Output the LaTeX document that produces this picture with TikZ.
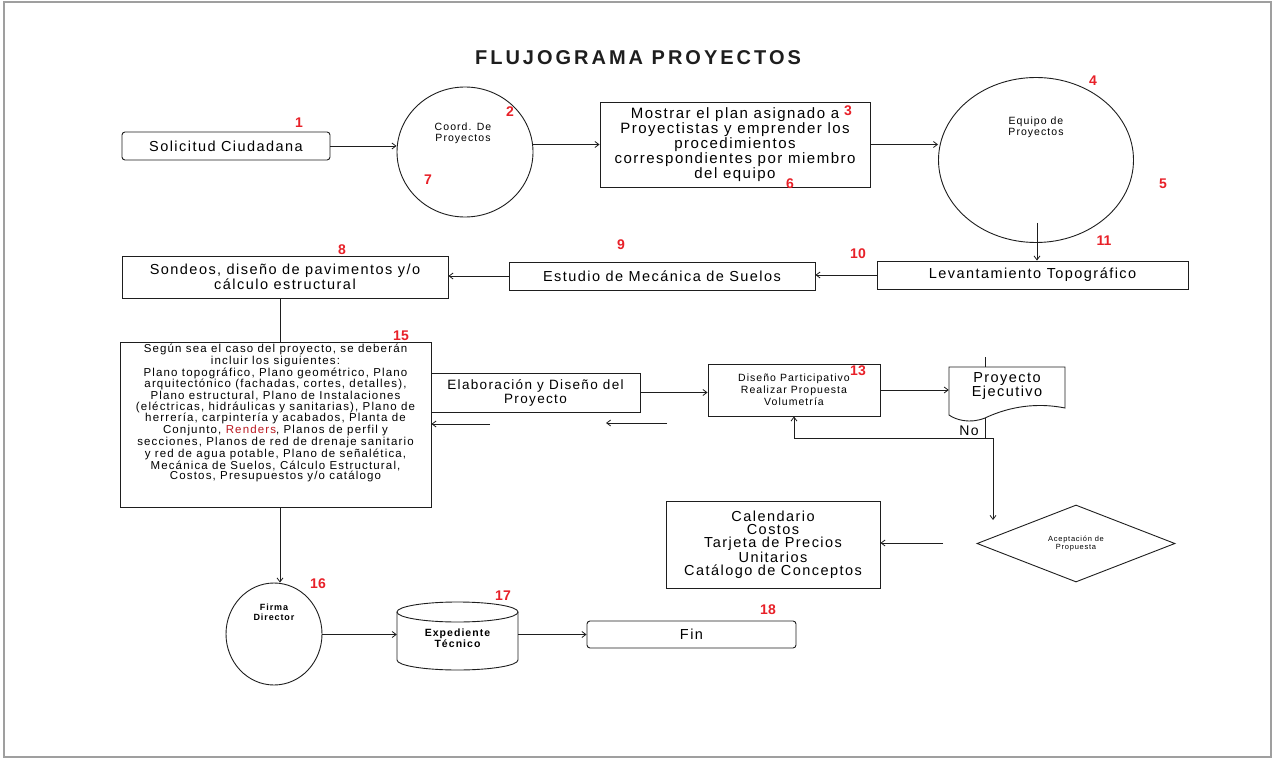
\documentclass[tikz,border=0pt]{standalone}
\usepackage{fontspec}
\setmainfont{Liberation Sans}[LetterSpace=10]
\newfontfamily\plainsans{Liberation Sans}
\newfontfamily\titlefont{Liberation Sans}[LetterSpace=15]
\usetikzlibrary{arrows.meta,shapes.geometric,calc}
\definecolor{numred}{RGB}{232,32,40}
\definecolor{ink}{RGB}{30,30,30}
\tikzset{
  base/.style={draw=ink, line width=0.9pt, fill=white, inner sep=2pt, align=center,
    font=\fontsize{14.5}{14.5}\selectfont},
  boxn/.style={base, rectangle},
  rbox/.style={base, rectangle, rounded corners=3pt},
  ell/.style={draw=ink, line width=0.9pt, ellipse, inner sep=0pt},
  small/.style={align=center, inner sep=0pt, font=\fontsize{10.5}{11}\selectfont},
  num/.style={text=numred, inner sep=0pt, font=\plainsans\bfseries\fontsize{14}{14}\selectfont},
  arr/.style={draw=ink, line width=0.8pt, -{Straight Barb[length=4pt,width=6pt]}},
  ln/.style={draw=ink, line width=0.8pt},
}
\begin{document}
\begin{tikzpicture}[x=1pt,y=-1pt]
\useasboundingbox (0,0) rectangle (1274,759);
\fill[white] (0,0) rectangle (1274,759);
\draw[gray!75, line width=1.2pt] (4,2) rectangle (1271,757);

\node[font=\titlefont\bfseries\fontsize{20}{20}\selectfont, text=ink] (title) at (638,58) {FLUJOGRAMA PROYECTOS};

% row 1
\node[rbox, minimum width=208, minimum height=28] (n1) at (226,146) {Solicitud Ciudadana};
\node[ell, minimum width=136, minimum height=130] (n2) at (465,152) {};
\node[small] (n2t) at (463,133) {Coord. De\\Proyectos};
\node[boxn, minimum width=270, minimum height=85, font=\fontsize{15}{13.4}\selectfont] (n3) at (735,144.5)
  {Mostrar el plan asignado a\\Proyectistas y emprender los\\procedimientos\\correspondientes por miembro\\del equipo};
\node[ell, minimum width=195, minimum height=165] (n4) at (1036,160) {};
\node[small] (n4t) at (1036,127) {Equipo de\\Proyectos};

% row 2
\node[boxn, minimum width=311, minimum height=28] (n11) at (1032.5,275) {Levantamiento Topográfico};
\node[boxn, minimum width=306, minimum height=28] (n9) at (662,276) {Estudio de Mecánica de Suelos};
\node[boxn, minimum width=326, minimum height=42, font=\fontsize{14.5}{15}\selectfont] (n8) at (285,277)
  {Sondeos, diseño de pavimentos y/o\\cálculo estructural};

% row 3
\node[boxn, minimum width=311, minimum height=160, font=\fontsize{11.5}{10.4}\selectfont] (n15) at (275.5,425)
  {Según sea el caso del proyecto, se deberán\\incluir los siguientes:\\Plano topográfico, Plano geométrico, Plano\\arquitectónico (fachadas, cortes, detalles),\\Plano estructural, Plano de Instalaciones\\(eléctricas, hidráulicas y sanitarias), Plano de\\herrería, carpintería y acabados, Planta de\\Conjunto, \textcolor{numred!80!black}{Renders}, Planos de perfil y\\secciones, Planos de red de drenaje sanitario\\y red de agua potable, Plano de señalética,\\Mecánica de Suelos, Cálculo Estructural,\\Costos, Presupuestos y/o catálogo\\[16pt]~};
\node[boxn, minimum width=209, minimum height=39, font=\fontsize{13.5}{14}\selectfont] (elab) at (535.5,392.5)
  {Elaboración y Diseño del\\Proyecto};
\node[boxn, minimum width=172, minimum height=52, font=\fontsize{10.5}{12}\selectfont] (n13) at (794,390)
  {Diseño Participativo\\Realizar Propuesta\\Volumetría};
\node[minimum width=116, minimum height=51, inner sep=0pt] (doc) at (1007,392.5) {};
\fill[white] (949,367) -- (1065,367) -- (1065,408) .. controls (1030,401) and (1002,410) .. (985,418) .. controls (970,424) and (956,420) .. (949,415) -- cycle;
\draw[ln, line width=0.9pt] (949,367) -- (1065,367) -- (1065,408) .. controls (1030,401) and (1002,410) .. (985,418) .. controls (970,424) and (956,420) .. (949,415) -- cycle;
\node[align=center, font=\fontsize{14.5}{14}\selectfont] (doct) at (1007,386) {Proyecto\\Ejecutivo};

% row 4
\node[boxn, minimum width=214, minimum height=87, font=\fontsize{14.5}{13}\selectfont] (cal) at (773,544.5)
  {Calendario\\Costos\\Tarjeta de Precios\\Unitarios\\Catálogo de Conceptos};
\node[diamond, draw=ink, line width=0.9pt, minimum width=198, minimum height=77, inner sep=0pt, align=center,
  font=\fontsize{7.5}{8}\selectfont] (dia) at (1076,543.5) {Aceptación de\\Propuesta};

% row 5
\node[ell, minimum width=96, minimum height=102] (n16) at (274,634) {};
\node[small, font=\bfseries\fontsize{9}{10}\selectfont] (n16t) at (274,612) {Firma\\Director};
\node[minimum width=121, minimum height=58, inner sep=0pt, align=center,
  font=\bfseries\fontsize{10.5}{11}\selectfont] (n17) at (457.5,638) {Expediente\\Técnico};
\draw[ln, line width=0.9pt] (397,612) -- (397,660) arc[start angle=180, end angle=0, x radius=60.5, y radius=10] -- (518,612);
\draw[ln, line width=0.9pt] (457.5,612) ellipse [x radius=60.5, y radius=10];
\node[rbox, minimum width=209, minimum height=27] (fin) at (691.5,634.5) {Fin};

% red numbers
\node[num] (r1) at (299,123) {1};
\node[num] (r2) at (510,112) {2};
\node[num] (r7) at (428,180) {7};
\node[num] (r3) at (848,111) {3};
\node[num] (r6) at (790,184) {6};
\node[num] (r4) at (1093,81) {4};
\node[num] (r5) at (1163,184) {5};
\node[num] (r11) at (1104,241) {11};
\node[num] (r10) at (858,254) {10};
\node[num] (r9) at (621,245) {9};
\node[num] (r8) at (342,250) {8};
\node[num] (r15) at (401,336) {15};
\node[num] (r13) at (858,371) {13};
\node[num] (r16) at (318,584) {16};
\node[num] (r17) at (503,596) {17};
\node[num] (r18) at (768,610) {18};

% connectors
\draw[arr] (n1.east) -- (n1.east -| n2.west);
\draw[arr] (n3.west -| n2.east) -- (n3.west);
\draw[arr] (n3.east) -- (n3.east -| n4.west);
\coordinate (c4) at (1037,223);
\draw[arr] (c4) -- (c4 |- n11.north);
\draw[arr] (n11.west) -- (n11.west -| n9.east);
\draw[arr] (n9.west) -- (n9.west -| n8.east);
\coordinate (v1) at (280,0);
\draw[ln] (n8.south -| v1) -- (n15.north -| v1);
\draw[arr] (n15.south -| v1) -- (v1 |- n16.north);
\draw[arr] (elab.east) -- (elab.east -| n13.west);
\coordinate (a1) at (490,424);
\draw[arr] (a1) -- (a1 -| n15.east);
\coordinate (a2s) at (667,423);
\coordinate (a2e) at (606,423);
\draw[arr] (a2s) -- (a2e);
\draw[arr] (n13.east) -- (n13.east -| doc.west);
\coordinate (dtop) at (985,357);
\draw[ln] (dtop) -- (dtop |- doc.north);
\coordinate (j1) at (985,438);
\draw[arr] (j1 |- doc.south) -- (j1) -| (n13.south);
\coordinate (j2) at (993,438);
\coordinate (j3) at (993,520);
\draw[ln] (j1) -- (j2);
\draw[arr] (j2) -- (j3);
\node[font=\fontsize{14}{14}\selectfont, inner sep=0pt] (no) at (969,431) {No};
\coordinate (a3) at (943,543);
\draw[arr] (a3) -- (a3 -| cal.east);
\draw[arr] (n16.east |- fin) -- (fin.west -| n17.west);
\draw[arr] (n17.east |- fin) -- (fin.west);
\end{tikzpicture}
\end{document}
